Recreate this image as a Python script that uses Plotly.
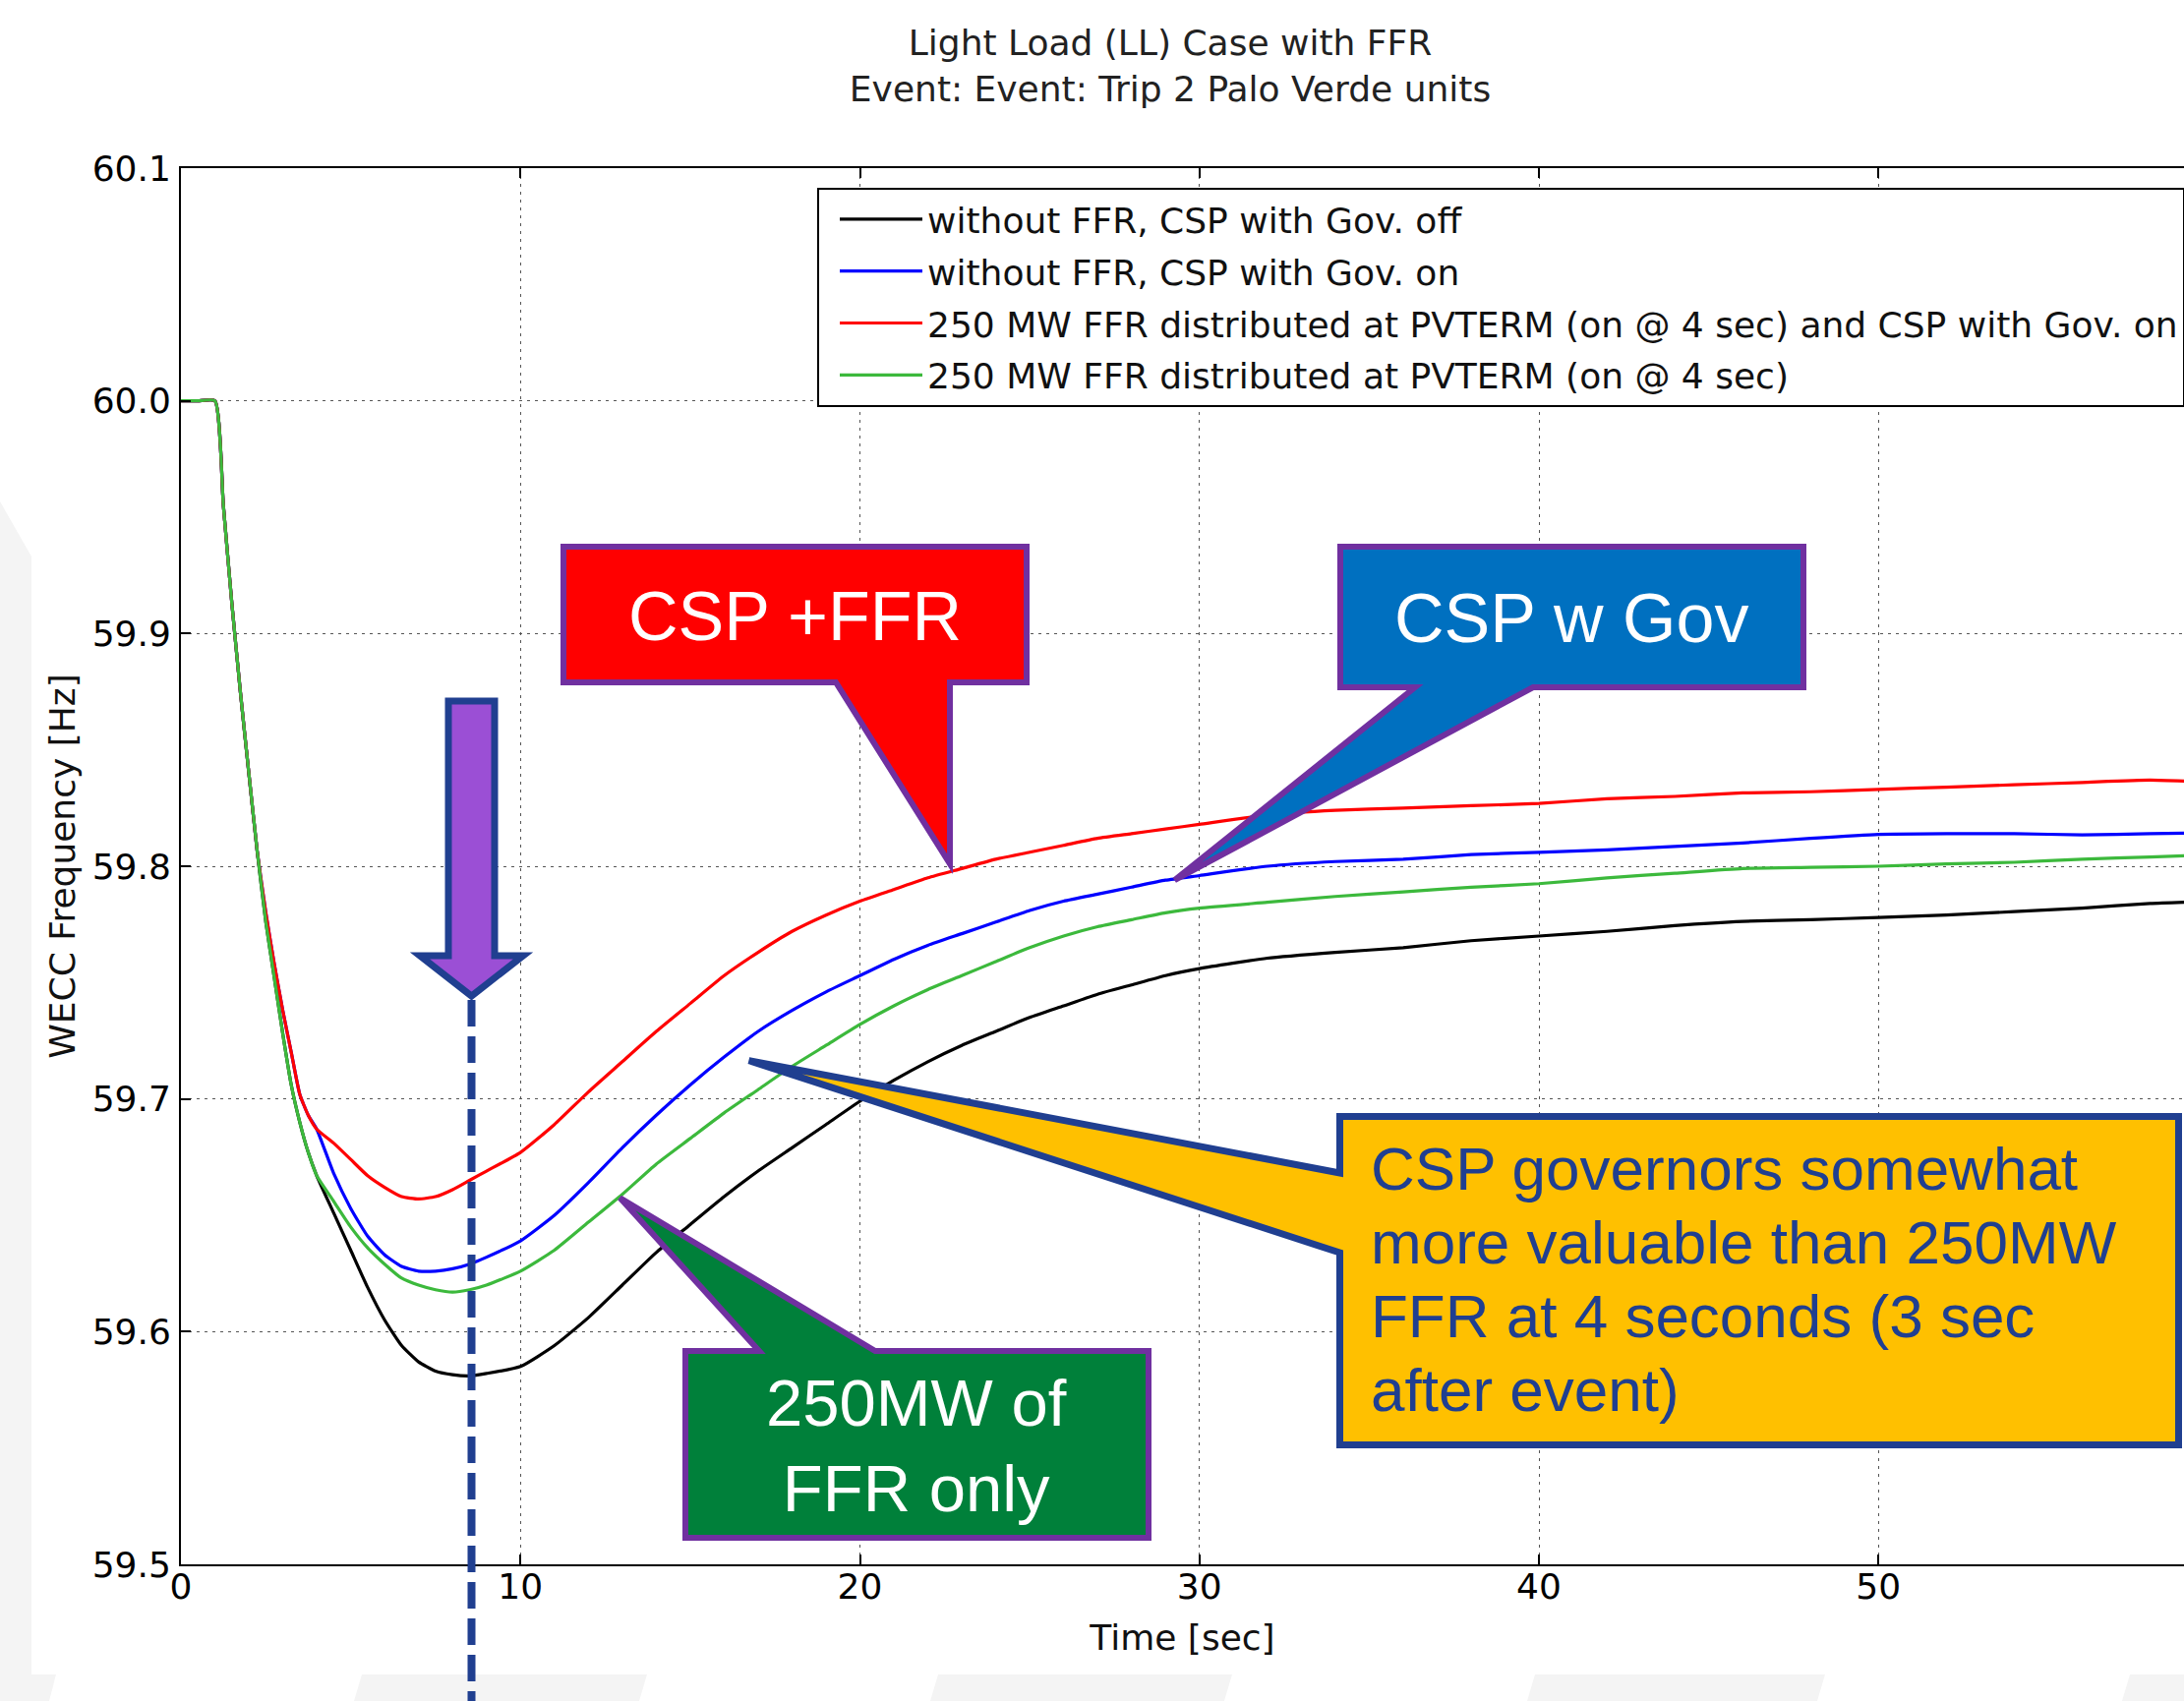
import plotly.graph_objects as go

# ---------------- data ----------------
time_s = [0, 0.5, 1.0, 1.25, 1.5, 1.75, 2.0, 2.25, 2.5, 2.75, 3.0, 3.25, 3.5, 3.75, 4.0,
          4.5, 5.0, 5.5, 6.0, 6.5, 7.0, 7.5, 8.0, 8.5, 9.0,
          10, 11, 12, 13, 14, 15, 16, 17, 18, 19, 20, 21, 22, 23, 24, 25, 26, 27, 28, 29, 30,
          32, 34, 36, 38, 40, 42, 44, 46, 48, 50, 52, 54, 56, 58, 60]

freq_no_ffr_gov_off = [60.0, 60.0, 60.0, 59.955, 59.913, 59.875, 59.84, 59.806, 59.776, 59.752, 59.728, 59.706, 59.69, 59.677, 59.667,
                       59.651, 59.635, 59.619, 59.605, 59.594, 59.587, 59.583, 59.5815, 59.581, 59.582,
                       59.585, 59.594, 59.606, 59.62, 59.634, 59.646, 59.658, 59.669, 59.679, 59.689, 59.699,
                       59.708, 59.716, 59.723, 59.729, 59.735, 59.740, 59.745, 59.749, 59.753, 59.756,
                       59.7605, 59.763, 59.765, 59.768, 59.77, 59.772, 59.7745, 59.7763, 59.777, 59.778,
                       59.779, 59.7805, 59.782, 59.784, 59.785]

freq_no_ffr_gov_on = [60.0, 60.0, 60.0, 59.955, 59.913, 59.875, 59.84, 59.806, 59.78, 59.758, 59.738, 59.72, 59.702, 59.693, 59.687,
                      59.668, 59.653, 59.641, 59.633, 59.628, 59.626, 59.626, 59.627, 59.629, 59.632,
                      59.639, 59.65, 59.664, 59.679, 59.693, 59.706, 59.718, 59.729, 59.738, 59.746, 59.753,
                      59.76, 59.766, 59.771, 59.776, 59.781, 59.785, 59.788, 59.791, 59.794, 59.796,
                      59.80, 59.802, 59.803, 59.805, 59.806, 59.807, 59.8085, 59.81, 59.812, 59.8137,
                      59.814, 59.814, 59.8135, 59.814, 59.8145]

freq_ffr_gov_on = [60.0, 60.0, 60.0, 59.955, 59.913, 59.875, 59.84, 59.806, 59.78, 59.758, 59.738, 59.72, 59.702, 59.693, 59.687,
                   59.681, 59.674, 59.667, 59.662, 59.658, 59.657, 59.658, 59.661, 59.665, 59.669,
                   59.677, 59.689, 59.703, 59.716, 59.729, 59.741, 59.753, 59.763, 59.772, 59.779, 59.785,
                   59.790, 59.795, 59.799, 59.803, 59.806, 59.809, 59.812, 59.814, 59.816, 59.818,
                   59.822, 59.824, 59.825, 59.826, 59.827, 59.829, 59.830, 59.8315, 59.832, 59.833,
                   59.834, 59.835, 59.836, 59.837, 59.836]

freq_ffr_only = [60.0, 60.0, 60.0, 59.955, 59.913, 59.875, 59.84, 59.806, 59.776, 59.752, 59.728, 59.706, 59.69, 59.677, 59.667,
                 59.656, 59.645, 59.636, 59.629, 59.623, 59.62, 59.618, 59.617, 59.618, 59.62,
                 59.626, 59.635, 59.647, 59.659, 59.672, 59.683, 59.694, 59.704, 59.714, 59.723, 59.732,
                 59.74, 59.747, 59.753, 59.759, 59.765, 59.77, 59.774, 59.777, 59.78, 59.782,
                 59.7845, 59.787, 59.789, 59.791, 59.7925, 59.795, 59.797, 59.799, 59.7995, 59.800,
                 59.801, 59.8017, 59.803, 59.804, 59.805]

series_names = ["without FFR, CSP with Gov. off",
                "without FFR, CSP with Gov. on",
                "250 MW FFR distributed at PVTERM (on @ 4 sec) and CSP with Gov. on",
                "250 MW FFR distributed at PVTERM (on @ 4 sec)"]
series_values = [freq_no_ffr_gov_off, freq_no_ffr_gov_on, freq_ffr_gov_on, freq_ffr_only]
series_colors = ["#000000", "#0000ff", "#ff0000", "#3cb93c"]

x_tick_vals = [0, 10, 20, 30, 40, 50, 60]
y_tick_vals = [59.5, 59.6, 59.7, 59.8, 59.9, 60.0, 60.1]

# callout pointer targets (time, frequency)
red_tip = (22.65, 59.801)
blue_tip = (29.27, 59.794)
green_tip = (12.93, 59.6575)
yellow_tip = (16.73, 59.7165)

# ---------------- layout geometry ----------------
W, H = 2221, 1730
ML, MR, MT, MB = 184, 0, 171, 139
X_RANGE = [0, 59.0]
Y_RANGE = [59.5, 60.1]
PW, PH = W - ML - MR, H - MT - MB

def px(x):
    return (x - ML) / PW

def py(y):
    return (H - MB - y) / PH

def dpx(t):
    return ML + (t - X_RANGE[0]) / (X_RANGE[1] - X_RANGE[0]) * PW

def dpy(f):
    return MT + (Y_RANGE[1] - f) / (Y_RANGE[1] - Y_RANGE[0]) * PH

def path(points):
    s = "M" + " L".join(f"{px(x):.5f},{py(y):.5f}" for x, y in points)
    return s + " Z"

fig = go.Figure()
for i, (name, vals, col) in enumerate(zip(series_names, series_values, series_colors)):
    fig.add_trace(go.Scatter(x=time_s, y=vals, mode="lines", name=name, legendgroup=f"g{i}",
                             line=dict(color=col, width=3.2, shape="spline", smoothing=0.5)))

PURPLE = "#7030A0"
NAVY = "#203F90"
shapes = []

# faint slide-template decorations
for pts in [[(0, 510), (32, 566), (32, 1730), (0, 1730)],
            [(0, 1703), (57, 1703), (50, 1730), (0, 1730)],
            [(368, 1703), (658, 1703), (650, 1730), (360, 1730)],
            [(954, 1703), (1253, 1703), (1245, 1730), (946, 1730)],
            [(1561, 1703), (1856, 1703), (1848, 1730), (1553, 1730)],
            [(2166, 1703), (2221, 1703), (2221, 1730), (2158, 1730)]]:
    shapes.append(dict(type="path", xref="paper", yref="paper", layer="below",
                       path=path(pts), fillcolor="#f4f4f4", line=dict(width=0)))

# red callout
rx, ry = dpx(red_tip[0]), dpy(red_tip[1])
shapes.append(dict(type="path", xref="paper", yref="paper", layer="above",
                   path=path([(573, 556), (1044, 556), (1044, 694), (rx, 694), (rx, ry), (850, 694), (573, 694)]),
                   fillcolor="#ff0000", line=dict(color=PURPLE, width=6)))
# blue callout
bx, by = dpx(blue_tip[0]), dpy(blue_tip[1])
shapes.append(dict(type="path", xref="paper", yref="paper", layer="above",
                   path=path([(1363, 556), (1834, 556), (1834, 699), (1559, 699), (bx, by), (1439, 699), (1363, 699)]),
                   fillcolor="#0070C0", line=dict(color=PURPLE, width=6)))
# green callout
gx, gy = dpx(green_tip[0]), dpy(green_tip[1])
shapes.append(dict(type="path", xref="paper", yref="paper", layer="above",
                   path=path([(697, 1374), (772, 1374), (gx, gy), (890, 1374), (1168, 1374), (1168, 1564), (697, 1564)]),
                   fillcolor="#00803A", line=dict(color=PURPLE, width=6)))
# yellow callout
yx, yy = dpx(yellow_tip[0]), dpy(yellow_tip[1])
shapes.append(dict(type="path", xref="paper", yref="paper", layer="above",
                   path=path([(1362.5, 1135.5), (2215.5, 1135.5), (2215.5, 1469.5), (1362.5, 1469.5),
                              (1362.5, 1274), (yx, yy), (1362.5, 1193)]),
                   fillcolor="#FFC000", line=dict(color=NAVY, width=7)))
# dashed marker line
shapes.append(dict(type="line", xref="paper", yref="paper", layer="above",
                   x0=px(479.5), x1=px(479.5), y0=py(1017), y1=py(1732),
                   line=dict(color=NAVY, width=8, dash="27px,10px")))
# purple down arrow
shapes.append(dict(type="path", xref="paper", yref="paper", layer="above",
                   path=path([(456, 713), (503, 713), (503, 972), (532, 972), (479.5, 1013), (427, 972), (456, 972)]),
                   fillcolor="#9B4FD5", line=dict(color=NAVY, width=7)))

annotations = []
def add_text(text, x, y, size, color, xanchor="center"):
    annotations.append(dict(text=text, x=px(x), y=py(y), xref="paper", yref="paper",
                            xanchor=xanchor, yanchor="middle", showarrow=False,
                            align=xanchor if xanchor != "center" else "center",
                            font=dict(family="Liberation Sans, Arial", size=size, color=color)))

add_text("CSP +FFR", 808, 627, 70, "white")
add_text("CSP w Gov", 1598, 629, 70, "white")
add_text("250MW of<br>FFR only", 932, 1470, 67, "white")
for i, line in enumerate(["CSP governors somewhat", "more valuable than 250MW",
                          "FFR at 4 seconds (3 sec", "after event)"]):
    add_text(line, 1392, 1188 + 75 * i, 62, NAVY, xanchor="left")

FONT = "DejaVu Sans"
axis_common = dict(showline=True, linecolor="black", linewidth=2, ticks="inside", ticklen=10,
                   tickwidth=2, tickcolor="black", showgrid=True, gridcolor="#555555", gridwidth=1,
                   griddash="3px,5px", zeroline=False, tickfont=dict(family=FONT, size=36, color="black"))

fig.update_layout(
    width=W, height=H,
    margin=dict(l=ML, r=MR, t=MT, b=MB, pad=0, autoexpand=False),
    paper_bgcolor="white", plot_bgcolor="white",
    title=dict(text="Light Load (LL) Case with FFR<br>Event: Event: Trip 2 Palo Verde units",
               x=px(1190), xref="paper", xanchor="center", y=1 - 56 / H, yref="container", yanchor="middle",
               font=dict(family=FONT, size=36, color="#222222")),
    xaxis=dict(range=X_RANGE, tickvals=x_tick_vals, mirror="ticks", ticklabelstandoff=-10,
               title=dict(text="Time [sec]", font=dict(family=FONT, size=36, color="#111111"), standoff=20),
               **axis_common),
    yaxis=dict(range=Y_RANGE, tickvals=y_tick_vals, tickformat=".1f", ticklabelstandoff=1,
               title=dict(text="WECC Frequency [Hz]", font=dict(family=FONT, size=36, color="#111111"), standoff=6),
               **axis_common),
    legend=dict(x=px(831), y=py(191), xanchor="left", yanchor="top", bgcolor="white",
                bordercolor="black", borderwidth=2, font=dict(family=FONT, size=36, color="#111111"),
                traceorder="grouped", tracegroupgap=3, indentation=16, itemwidth=84),
    showlegend=True,
    shapes=shapes,
    annotations=annotations,
)

fig.write_html("out.html", config={"displayModeBar": False},
               post_script="document.body.style.margin='0';")
